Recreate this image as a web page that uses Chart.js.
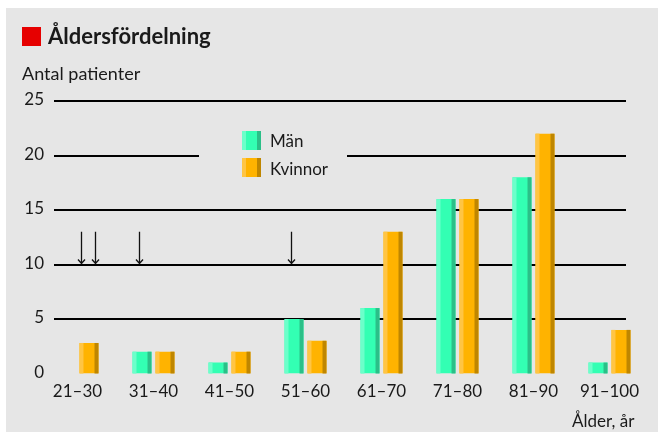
<!DOCTYPE html>
<html>
<head>
<meta charset="utf-8">
<script src="https://cdn.jsdelivr.net/npm/chart.js@4.4.1/dist/chart.umd.min.js"></script>
<style>
  html, body { margin: 0; padding: 0; background: #fff; }
  #wrap { position: relative; width: 658px; height: 432px; overflow: hidden;
          font-family: Lato, "Open Sans", sans-serif; color: #1a1a1a; }
  #panel { position: absolute; left: 6px; top: 8px; right: 0; bottom: 0; background: #e6e6e6; }
  canvas { position: absolute; left: 0; top: 0; }
  .t { position: absolute; white-space: nowrap; line-height: 1; }
  #mark { position: absolute; left: 22px; top: 27px; width: 19px; height: 19px; background: #e60000; }
  #title { left: 48px; top: 25px; font-size: 22px; font-weight: 700; }
  #ylab { left: 22px; top: 64px; font-size: 18px; }
  #xlab { left: 572px; top: 412px; font-size: 17px; }
  .lg { position: absolute; left: 242px; width: 19px; height: 19px; }
  .lgt { left: 270px; font-size: 17px; }
</style>
</head>
<body>
<div id="wrap">
  <div id="panel"></div>
  <canvas id="c" width="658" height="432"></canvas>
  <div id="mark"></div>
  <div class="t" id="title">Åldersfördelning</div>
  <div class="t" id="ylab">Antal patienter</div>
  <div class="t" id="xlab">Ålder, år</div>
  <div class="lg" id="lg0" style="top:131px"></div>
  <div class="t lgt" id="lgt0" style="top:132px"></div>
  <div class="lg" id="lg1" style="top:158px"></div>
  <div class="t lgt" id="lgt1" style="top:160px"></div>
</div>
<script>
// Age groups and patient counts
const ageGroups = ['21–30', '31–40', '41–50', '51–60', '61–70', '71–80', '81–90', '91–100'];
const seriesNames = ['Män', 'Kvinnor'];
const men   = [0, 2, 1, 5, 6, 16, 18, 1];
const women = [2.8, 2, 2, 3, 13, 16, 22, 4];
const yTicks = [0, 5, 10, 15, 20, 25];
// Arrow markers: position along the age axis (category index units), from/to value
const arrowPos = [0.05, 0.23, 0.81, 2.81];
const arrowFrom = 13;
const arrowTo = 10;

// Three-tone bar colours: light edge, face, dark edge
const tones = [
  { light: '#6cffca', face: '#33ffb3', dark: '#2bbf88' },
  { light: '#ffc544', face: '#ffb300', dark: '#bf8600' }
];

// HTML legend
seriesNames.forEach((name, i) => {
  const t = tones[i];
  document.getElementById('lg' + i).style.background =
    `linear-gradient(to right, ${t.light} 0 4px, ${t.face} 4px 15px, ${t.dark} 15px 19px)`;
  document.getElementById('lgt' + i).textContent = name;
});

const FONT = { family: 'Lato, "Open Sans", sans-serif', size: 17 };
const INK = '#1a1a1a';

// Horizontal rules at the y ticks (above zero), with a break around the legend
const rulesPlugin = {
  id: 'rules',
  beforeDatasetsDraw(chart) {
    const { ctx, chartArea } = chart;
    const y = chart.scales.y;
    const x0 = chartArea.left + 14.5;
    const x1 = chartArea.right - 21.5;
    ctx.save();
    ctx.strokeStyle = '#000';
    ctx.lineWidth = 2;
    yTicks.filter(v => v > 0).forEach(v => {
      const py = Math.round(y.getPixelForValue(v));
      ctx.beginPath();
      if (v === 20) {
        ctx.moveTo(x0, py); ctx.lineTo(199, py);
        ctx.moveTo(347, py); ctx.lineTo(x1, py);
      } else {
        ctx.moveTo(x0, py); ctx.lineTo(x1, py);
      }
      ctx.stroke();
    });
    ctx.restore();
  }
};

// Y tick labels, right-aligned just left of where the rules begin
const yLabelPlugin = {
  id: 'yLabels',
  afterDraw(chart) {
    const { ctx, chartArea } = chart;
    const y = chart.scales.y;
    ctx.save();
    ctx.font = `${FONT.size}px ${FONT.family}`;
    ctx.fillStyle = INK;
    ctx.textAlign = 'right';
    ctx.textBaseline = 'middle';
    y.ticks.forEach(t => {
      ctx.fillText(String(t.value), chartArea.left + 4.5, y.getPixelForValue(t.value) - 1);
    });
    ctx.restore();
  }
};

// Light and dark side strips on each bar
const shadePlugin = {
  id: 'shade',
  afterDatasetsDraw(chart) {
    const { ctx } = chart;
    ctx.save();
    chart.data.datasets.forEach((ds, di) => {
      const meta = chart.getDatasetMeta(di);
      const t = tones[di];
      meta.data.forEach(el => {
        const { x, y, base, width } = el.getProps(['x', 'y', 'base', 'width'], true);
        const h = base - y;
        if (h <= 0) return;
        const left = x - width / 2;
        const sw = width * 0.21;
        ctx.fillStyle = t.light;
        ctx.fillRect(left, y, sw, h);
        ctx.fillStyle = t.dark;
        ctx.fillRect(left + width - sw, y, sw, h);
      });
    });
    ctx.restore();
  }
};

// Downward arrows
const arrowPlugin = {
  id: 'arrows',
  afterDatasetsDraw(chart) {
    const { ctx } = chart;
    const xs = chart.scales.x, ys = chart.scales.y;
    ctx.save();
    ctx.strokeStyle = '#111';
    ctx.lineWidth = 1.3;
    arrowPos.forEach(p => {
      const px = Math.round(xs.getPixelForValue(p)) + 0.5;
      const y0 = ys.getPixelForValue(arrowFrom);
      const y1 = ys.getPixelForValue(arrowTo) - 1;
      ctx.beginPath();
      ctx.moveTo(px, y0); ctx.lineTo(px, y1);
      ctx.moveTo(px - 3.5, y1 - 4); ctx.lineTo(px, y1); ctx.lineTo(px + 3.5, y1 - 4);
      ctx.stroke();
    });
    ctx.restore();
  }
};

new Chart(document.getElementById('c'), {
  type: 'bar',
  data: {
    labels: ageGroups,
    datasets: [
      { label: seriesNames[0], data: men, backgroundColor: tones[0].face },
      { label: seriesNames[1], data: women, backgroundColor: tones[1].face }
    ]
  },
  options: {
    responsive: false,
    animation: false,
    devicePixelRatio: 1,
    categoryPercentage: 0.605,
    barPercentage: 0.826,
    layout: { padding: { left: 0, right: 10.5, top: 101, bottom: 0 } },
    plugins: { legend: { display: false }, tooltip: { enabled: false }, title: { display: false } },
    scales: {
      x: {
        offset: true,
        grid: { display: false, drawTicks: false },
        border: { display: false },
        ticks: { font: FONT, color: INK, padding: 8, maxRotation: 0, autoSkip: false },
        afterFit(s) { s.height = 58.5; }
      },
      y: {
        min: 0, max: 25,
        afterBuildTicks(s) { s.ticks = yTicks.map(v => ({ value: v })); },
        grid: { display: false, drawTicks: false },
        border: { display: false },
        ticks: { display: false },
        afterFit(s) { s.width = 39.5; }
      }
    }
  },
  plugins: [rulesPlugin, shadePlugin, arrowPlugin, yLabelPlugin]
});
</script>
</body>
</html>
